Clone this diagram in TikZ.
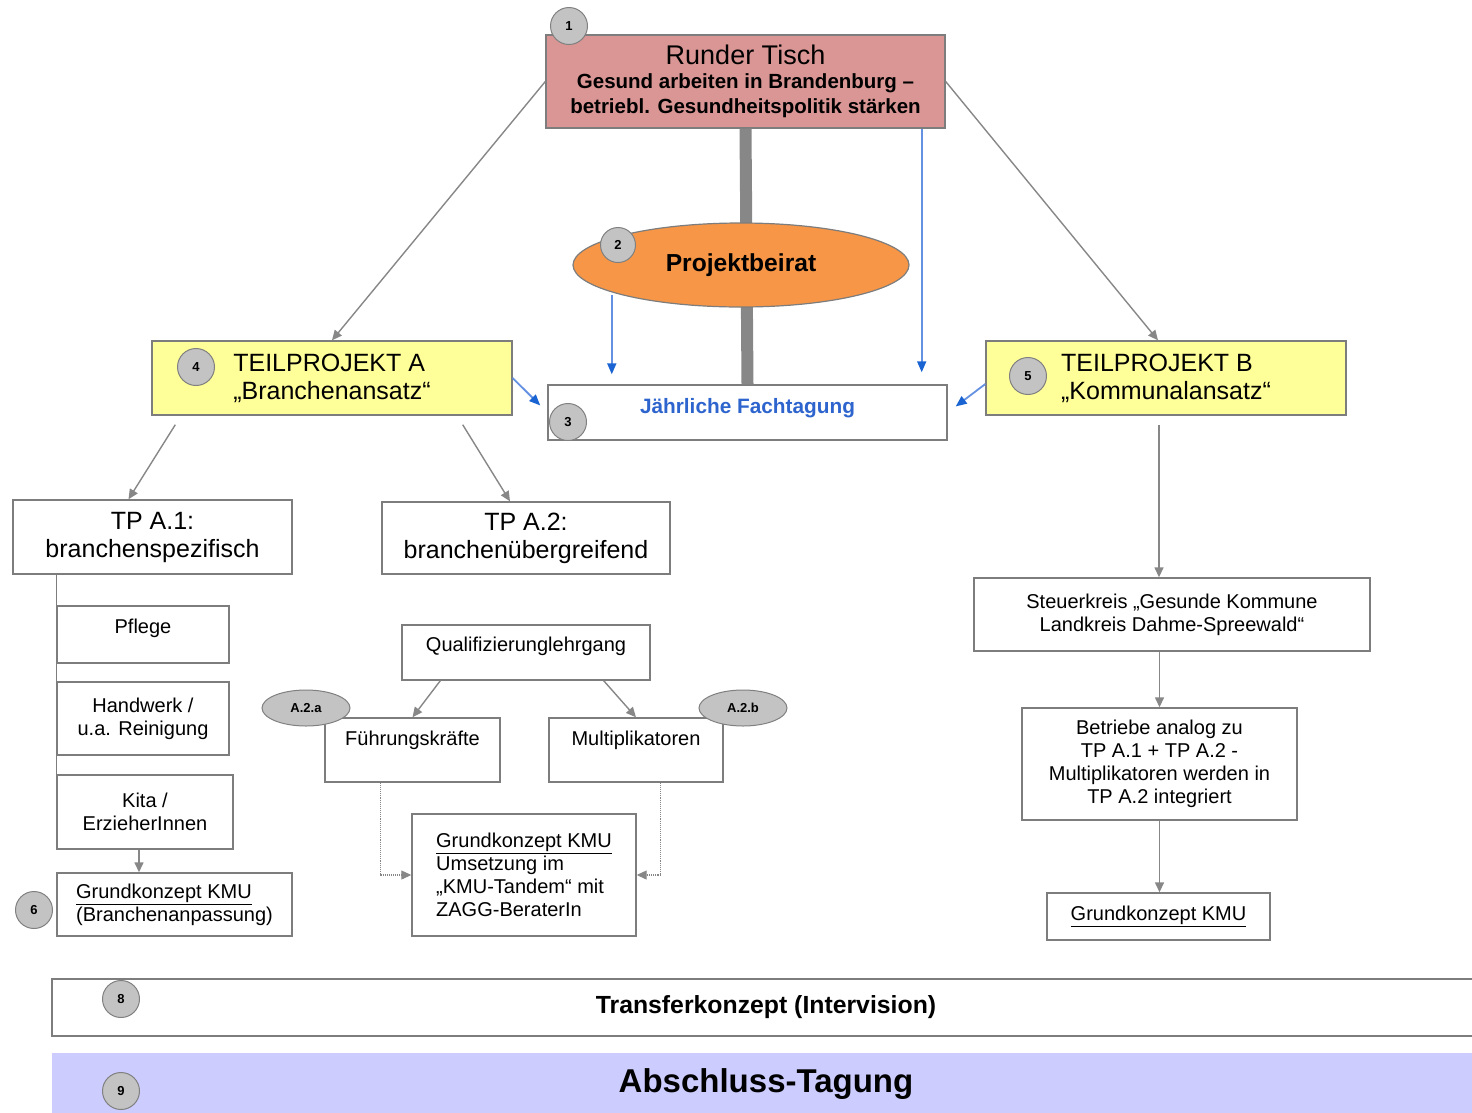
\documentclass[tikz,border=0pt]{standalone}
\usepackage{fontspec}
\setmainfont{Liberation Sans}
\usetikzlibrary{arrows.meta,shapes.geometric}
\definecolor{tischrot}{RGB}{217,150,148}
\definecolor{beiratorange}{RGB}{247,150,70}
\definecolor{tpgelb}{RGB}{255,255,153}
\definecolor{tagunglila}{RGB}{204,204,255}
\definecolor{randgrau}{RGB}{125,125,125}
\definecolor{pfeilgrau}{RGB}{135,135,135}
\definecolor{nummergrau}{RGB}{195,195,195}
\definecolor{linieblau}{RGB}{100,145,225}
\definecolor{spitzeblau}{RGB}{25,100,210}
\definecolor{textblau}{RGB}{45,100,205}
\begin{document}
\begin{tikzpicture}[x=1pt,y=-1pt,
  box/.style={draw=randgrau,line width=1.4pt,rectangle,inner sep=0pt,align=center,font=\fontsize{20}{23}\selectfont},
  bigbox/.style={box,font=\fontsize{25}{28}\selectfont},
  nummer/.style={circle,draw=gray,fill=nummergrau,line width=1pt,minimum size=37pt,inner sep=0pt,font=\bfseries\fontsize{13}{15}\selectfont},
  teil/.style={ellipse,draw=gray,fill=nummergrau,line width=1pt,minimum width=88pt,minimum height=36pt,inner sep=0pt,font=\bfseries\fontsize{13}{15}\selectfont},
  grauarrow/.style={draw=pfeilgrau,line width=1.4pt,-{Triangle[length=10pt,width=9pt]}},
  blauarrow/.style={draw=linieblau,line width=1.8pt,-{Triangle[length=11pt,width=9pt,color=spitzeblau]}},
  punktarrow/.style={draw=pfeilgrau,line width=1.1pt,densely dotted,-{Triangle[length=10pt,width=9pt]}}]
\useasboundingbox (0,0) rectangle (1472,1112);

\node (rt) [box,fill=tischrot,minimum width=399pt,minimum height=93pt] at (745.5,81.5)
  {{\fontsize{27}{29}\selectfont Runder Tisch}\\[1pt]
   {\bfseries\fontsize{20.5}{24}\selectfont Gesund arbeiten in Brandenburg –}\\[2pt]
   {\bfseries\fontsize{20.5}{24}\selectfont betriebl. Gesundheitspolitik stärken}};
\node (ft) [box,minimum width=399pt,minimum height=55pt,text depth=14pt,font=\bfseries\fontsize{20.8}{24}\selectfont,text=textblau] at (747.5,412.5) {Jährliche Fachtagung};
\path[draw=pfeilgrau,line width=12pt] (rt.south) -- (ft.north);
\node (pb) [ellipse,draw=randgrau,line width=1.2pt,fill=beiratorange,minimum width=336pt,minimum height=84pt,font=\bfseries\fontsize{24.6}{28}\selectfont] at (741,265) {Projektbeirat};

\node (tpa) [bigbox,fill=tpgelb,align=left,minimum width=360pt,minimum height=74pt] at (332,378) {TEILPROJEKT A\\„Branchenansatz“};
\node (tpb) [bigbox,fill=tpgelb,align=left,minimum width=360pt,minimum height=74pt] at (1166,378) {TEILPROJEKT B\\„Kommunalansatz“};

\node (tpa1) [bigbox,minimum width=279pt,minimum height=74pt] at (152.5,537) {TP A.1:\\branchenspezifisch};
\node (tpa2) [bigbox,minimum width=288pt,minimum height=72pt] at (526,538) {TP A.2:\\branchenübergreifend};

\node (pflege) [box,minimum width=172pt,minimum height=57pt,text depth=17pt] at (143,634.5) {Pflege};
\node (handwerk) [box,minimum width=172pt,minimum height=73pt] at (143,718.5) {Handwerk /\\u.a. Reinigung};
\node (kita) [box,minimum width=176pt,minimum height=74pt] at (145,812) {Kita /\\ErzieherInnen};
\node (gk6) [box,align=left,minimum width=235pt,minimum height=63pt] at (174.5,904.5) {\underline{Grundkonzept KMU}\\(Branchenanpassung)};

\node (qual) [box,minimum width=248pt,minimum height=55pt,text depth=17pt] at (526,652.5) {Qualifizierunglehrgang};
\node (fk) [box,minimum width=175pt,minimum height=64pt,text depth=24pt] at (412.5,750) {Führungskräfte};
\node (mk) [box,minimum width=174pt,minimum height=64pt,text depth=24pt] at (636,750) {Multiplikatoren};
\node (gkm) [box,align=left,minimum width=224pt,minimum height=122pt] at (524,875) {\underline{Grundkonzept KMU}\\Umsetzung im\\„KMU-Tandem“ mit\\ZAGG-BeraterIn};

\node (sk) [box,minimum width=396pt,minimum height=73pt] at (1172,614.5) {Steuerkreis „Gesunde Kommune\\Landkreis Dahme-Spreewald“};
\node (bt) [box,minimum width=275pt,minimum height=112pt] at (1159.5,764) {Betriebe analog zu\\TP A.1 + TP A.2 -\\Multiplikatoren werden in\\TP A.2 integriert};
\node (gkb) [box,minimum width=223pt,minimum height=47pt] at (1158.5,916.5) {\underline{Grundkonzept KMU}};

\node (transfer) [box,minimum width=1428pt,minimum height=57pt,font=\bfseries\fontsize{24.8}{28}\selectfont] at (766,1007.5) {Transferkonzept (Intervision)};
\node (abschluss) [rectangle,fill=tagunglila,minimum width=1428pt,minimum height=62pt,font=\bfseries\fontsize{33}{36}\selectfont] at (766,1084) {Abschluss-Tagung};

\draw[grauarrow] (rt.west) -- (tpa.north);
\draw[grauarrow] (rt.east) -- ([xshift=-8pt]tpb.north);
\draw[blauarrow,shorten >=10pt] ([xshift=-10pt]pb.south west) -- ([xshift=-10pt]pb.south west |- ft.north);
\draw[blauarrow,shorten >=12pt] ([xshift=-24pt]rt.south east) -- ([xshift=-24pt]rt.south east |- ft.north);
\draw[blauarrow,shorten >=10pt] (tpa.east) -- (ft.west);
\draw[blauarrow,shorten >=10pt] ([yshift=-6pt]tpb.west) -- (ft.east);
\draw[grauarrow] ([xshift=24pt,yshift=-9pt]tpa.south west) -- ([xshift=-24pt]tpa1.north);
\draw[grauarrow] ([xshift=-50pt,yshift=-9pt]tpa.south east) -- ([xshift=-16pt]tpa2.north);
\draw[draw=randgrau,line width=1.4pt] (pflege.west |- tpa1.south) -- (kita.south west);
\draw[grauarrow] ([xshift=-6pt]kita.south) -- ([xshift=-6pt]kita.south |- gk6.north);
\draw[grauarrow] ([xshift=39pt]qual.south west) -- (fk.north);
\draw[grauarrow] ([xshift=-47pt]qual.south east) -- (mk.north);
\draw[punktarrow] ([xshift=56pt]fk.south west) |- (gkm.west);
\draw[punktarrow] ([xshift=-63pt]mk.south east) |- (gkm.east);
\draw[grauarrow,shorten <=9pt] ([xshift=-7pt]tpb.south) -- ([xshift=-7pt]tpb.south |- sk.north);
\draw[grauarrow] (sk.south -| bt.north) -- (bt.north);
\draw[grauarrow] (bt.south) -- (bt.south |- gkb.north);

\node (n1) [nummer] at (569,26) {1};
\node (n2) [nummer,minimum size=35pt] at (618,245) {2};
\node (n3) [nummer] at (568,422) {3};
\node (n4) [nummer] at (196,367) {4};
\node (n5) [nummer] at (1028,376) {5};
\node (n6) [nummer] at (34,910) {6};
\node (n8) [nummer] at (121,999) {8};
\node (n9) [nummer] at (121,1091) {9};
\node (a2a) [teil] at (306,708) {A.2.a};
\node (a2b) [teil] at (743,708) {A.2.b};
\end{tikzpicture}
\end{document}
